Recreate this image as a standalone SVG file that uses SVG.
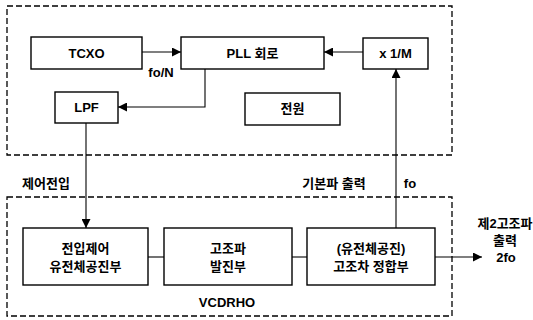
<svg xmlns="http://www.w3.org/2000/svg" width="533" height="320" viewBox="0 0 533 320">
<style>
.box{fill:#fff;stroke:#000;stroke-width:1.4}
.frame{fill:none;stroke:#000;stroke-width:1.3;stroke-dasharray:6 3}
.ln{fill:none;stroke:#000;stroke-width:1.1}
text{font-family:"Liberation Sans","Noto Sans CJK KR",sans-serif;font-weight:bold;font-size:13px;fill:#000;text-anchor:middle;dominant-baseline:central}
</style>
<defs>
<marker id="ah" viewBox="0 0 10 10" refX="10" refY="5" markerWidth="9" markerHeight="9" markerUnits="userSpaceOnUse" orient="auto">
<path d="M0,0 L10,5 L0,10 z" fill="#000"/>
</marker>
</defs>
<rect class="frame" x="7" y="6" width="445" height="149"/>
<rect class="frame" x="7" y="197" width="445" height="119"/>
<g id="connectors">
<line class="ln" x1="142" y1="52" x2="181" y2="52" marker-end="url(#ah)"/>
<line class="ln" x1="363" y1="52" x2="324" y2="52" marker-end="url(#ah)"/>
<polyline class="ln" points="205,69 205,107 118,107" marker-end="url(#ah)"/>
<line class="ln" x1="86" y1="123" x2="86" y2="228" marker-end="url(#ah)"/>
<line class="ln" x1="396" y1="228" x2="396" y2="69" marker-end="url(#ah)"/>
<line class="ln" x1="148" y1="257" x2="164" y2="257"/>
<line class="ln" x1="292" y1="257" x2="307" y2="257"/>
<line class="ln" x1="435" y1="257" x2="482" y2="257" marker-end="url(#ah)"/>
</g>
<g id="tcxo"><rect class="box" x="31" y="37" width="111" height="32"/><text x="86.5" y="53">TCXO</text></g>
<g id="pll"><rect class="box" x="181" y="37" width="143" height="32"/><text x="252.5" y="53">PLL 회로</text></g>
<g id="div"><rect class="box" x="363" y="38" width="65" height="31"/><text x="395.5" y="53">x 1/M</text></g>
<g id="lpf"><rect class="box" x="55" y="92" width="63" height="31"/><text x="86.5" y="107">LPF</text></g>
<g id="power"><rect class="box" x="245" y="93" width="95" height="32"/><text x="292.5" y="108">전원</text></g>
<g id="vcdr"><rect class="box" x="23" y="228" width="125" height="57"/><text x="85.5" y="248">전입제어</text><text x="85.5" y="266">유전체공진부</text></g>
<g id="osc"><rect class="box" x="164" y="228" width="128" height="57"/><text x="228" y="248">고조파</text><text x="228" y="266">발진부</text></g>
<g id="match"><rect class="box" x="307" y="228" width="128" height="57"/><text x="371" y="248">(유전체공진)</text><text x="371" y="266">고조차 정합부</text></g>
<g id="labels">
<text x="161" y="72" font-size="12">fo/N</text>
<text x="46" y="183">제어전입</text>
<text x="334" y="183">기본파 출력</text>
<text x="410" y="183">fo</text>
<text x="505" y="223">제2고조파</text>
<text x="505" y="240">출력</text>
<text x="506" y="257">2fo</text>
<text x="227" y="302">VCDRHO</text>
</g>
</svg>
